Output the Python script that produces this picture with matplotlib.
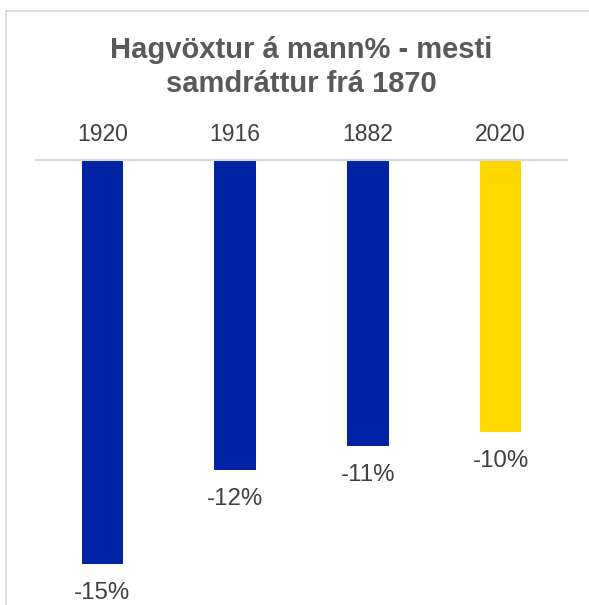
import matplotlib
matplotlib.use("Agg")
import matplotlib.pyplot as plt
from matplotlib.lines import Line2D

# data
years = ["1920", "1916", "1882", "2020"]
growth = [-15.0, -11.5, -10.6, -10.1]
labels = ["-15%", "-12%", "-11%", "-10%"]
colors = ["#0023A6", "#0023A6", "#0023A6", "#FFD800"]

plt.rcParams['font.family'] = ['Liberation Sans', 'DejaVu Sans']

W, H = 589, 605
fig = plt.figure(figsize=(W / 100, H / 100), dpi=100)

# plot area: x 36..567 px, zero line at y=160.3, -15 at ~564.3
x0, x1, y0 = 36, 567, 160.3
ax = fig.add_axes([x0 / W, 1 - 620 / H, (x1 - x0) / W, (620 - y0) / H])
ax.bar(range(len(years)), growth, width=0.314, color=colors)
ax.set_xlim(-0.5, 3.5)
scale = (564.3 - y0) / 15.0
ax.set_ylim(-(620 - y0) / scale, 0)
ax.axis("off")
ax.axhline(0, color="#D9D9D9", linewidth=1.5, clip_on=False)

for i, (y, v, lab) in enumerate(zip(years, growth, labels)):
    ax.annotate(y, (i, 0), xytext=(0, 14.1), textcoords="offset points",
                ha="center", va="baseline", fontsize=16.5, color="#404040",
                annotation_clip=False)
    ax.annotate(lab, (i, v), xytext=(0, -25.3), textcoords="offset points",
                ha="center", va="baseline", fontsize=17.3, color="#404040",
                annotation_clip=False)

cx = (x0 + x1) / 2
fig.text(cx / W, 1 - 58.3 / H, "Hagvöxtur á mann% - mesti", ha="center",
         va="baseline", fontsize=21, fontweight="bold", color="#595959")
fig.text(cx / W, 1 - 91.7 / H, "samdráttur frá 1870", ha="center",
         va="baseline", fontsize=21, fontweight="bold", color="#595959")

# frame lines of the chart area
fig.add_artist(Line2D([6 / W, 6 / W], [0, 1 - 10.5 / H], color="#D9D9D9", linewidth=1.2))
fig.add_artist(Line2D([6 / W, 589 / W], [1 - 10.5 / H, 1 - 10.5 / H], color="#D9D9D9", linewidth=1.2))

plt.savefig("out.png", dpi=100)
